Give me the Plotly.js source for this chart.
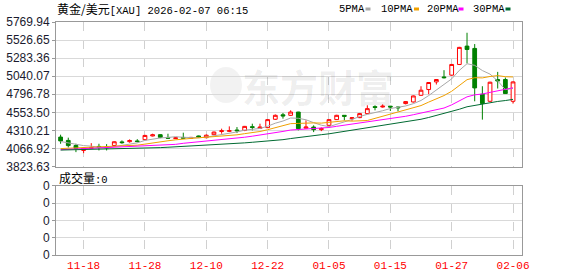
<!DOCTYPE html>
<html>
<head>
<meta charset="utf-8">
<script src="https://cdn.plot.ly/plotly-3.0.1.min.js"></script>
<style>
  html, body { margin: 0; padding: 0; background: #fff; }
  #chart { width: 578px; height: 276px; }
</style>
</head>
<body>
<div id="chart"></div>
<script>
// ---------- data ----------
const dates = ['11-13','11-14','11-17','11-18','11-19','11-20','11-21','11-24','11-25','11-26',
  '11-27','11-28','12-01','12-02','12-03','12-04','12-05','12-08','12-09','12-10',
  '12-11','12-12','12-15','12-16','12-17','12-18','12-19','12-22','12-23','12-24',
  '12-26','12-29','12-30','12-31','01-02','01-05','01-06','01-07','01-08','01-09',
  '01-12','01-13','01-14','01-15','01-16','01-19','01-20','01-21','01-22','01-23',
  '01-26','01-27','01-28','01-29','01-30','02-02','02-03','02-04','02-05','02-06'];

const openP = [4220,4175,4107,4040,4068,4094,4085,4107,4155,4158,
  4168,4185,4235,4252,4215,4200,4215,4202,4235,4212,
  4252,4295,4298,4315,4310,4360,4337,4347,4460,4520,
  4513,4557,4340,4355,4320,4378,4455,4513,4468,4482,
  4536,4630,4625,4636,4625,4671,4693,4783,4860,4963,
  5030,5054,5198,5445,5414,4797,4702,4995,4995,4702];
const highP = [4252,4212,4130,4080,4138,4130,4125,4162,4175,4189,
  4192,4250,4265,4258,4265,4220,4279,4222,4240,4256,
  4295,4333,4364,4355,4370,4400,4400,4460,4525,4545,
  4580,4560,4445,4378,4350,4460,4520,4515,4490,4545,
  4648,4648,4660,4640,4630,4705,4780,4905,4960,5000,
  5121,5205,5435,5625,5473,4905,4965,5098,5022,4970];
const lowP = [4130,4080,4017,4003,4060,4040,4040,4100,4130,4144,
  4148,4180,4229,4205,4200,4192,4198,4195,4210,4205,
  4245,4265,4287,4274,4300,4310,4330,4340,4450,4468,
  4505,4310,4335,4287,4300,4370,4450,4445,4440,4475,
  4530,4580,4617,4571,4567,4660,4685,4775,4797,4928,
  5009,5045,5190,5212,4702,4455,4695,4874,4800,4671];
const closeP = [4168,4105,4067,4071,4080,4080,4076,4157,4145,4172,
  4160,4242,4250,4216,4205,4210,4205,4215,4220,4245,
  4287,4305,4305,4305,4364,4350,4355,4455,4513,4505,
  4557,4333,4355,4320,4335,4455,4513,4500,4480,4536,
  4603,4620,4636,4625,4615,4698,4774,4851,4955,4995,
  5020,5198,5428,5400,4882,4671,4959,4975,4806,4963];

const ma5 = [4160,4140,4120,4105,4098,4081,4075,4093,4108,4126,
  4142,4175,4194,4208,4215,4225,4217,4210,4211,4219,
  4234,4254,4272,4289,4313,4326,4336,4366,4407,4436,
  4477,4473,4453,4414,4380,4360,4396,4425,4457,4497,
  4526,4548,4575,4604,4620,4639,4670,4713,4779,4855,
  4919,5004,5119,5208,5186,5116,5068,4977,4859,4875];
const ma10 = [4065,4070,4072,4074,4078,4082,4086,4092,4100,4108,
  4111,4125,4143,4158,4170,4183,4196,4202,4210,4217,
  4230,4236,4241,4250,4266,4280,4295,4319,4348,4374,
  4401,4404,4409,4411,4408,4418,4434,4439,4435,4438,
  4443,4472,4500,4530,4558,4583,4609,4644,4691,4737,
  4779,4837,4916,4993,5020,5017,5036,5048,5033,5030];
const ma20 = [4050,4055,4058,4062,4066,4070,4074,4078,4082,4086,
  4090,4096,4102,4108,4115,4122,4136,4146,4155,4164,
  4170,4180,4192,4204,4218,4232,4246,4261,4279,4296,
  4315,4320,4325,4330,4337,4349,4365,4379,4392,4406,
  4422,4438,4455,4471,4483,4500,4521,4541,4563,4588,
  4611,4654,4708,4762,4789,4800,4822,4846,4862,4884];
const ma30 = [4045,4047,4049,4051,4053,4055,4057,4059,4061,4063,
  4066,4070,4074,4078,4083,4088,4093,4098,4104,4110,
  4116,4122,4128,4135,4142,4150,4158,4167,4176,4185,
  4200,4215,4228,4240,4252,4264,4280,4295,4310,4325,
  4343,4360,4375,4390,4405,4422,4440,4460,4484,4510,
  4535,4562,4595,4628,4648,4662,4682,4700,4712,4728];

const volume = [0,0,0,0,0,0,0,0,0,0, 0,0,0,0,0,0,0,0,0,0, 0,0,0,0,0,0,0,0,0,0,
  0,0,0,0,0,0,0,0,0,0, 0,0,0,0,0,0,0,0,0,0, 0,0,0,0,0,0,0,0,0,0];

const yTickVals = [3823.63,4066.92,4310.21,4553.50,4796.78,5040.07,5283.36,5526.65,5769.94];
const yTickText = ['3823.63','4066.92','4310.21','4553.50','4796.78','5040.07','5283.36','5526.65','5769.94'];
const volTickVals = [0,1,2,3,4];
const volTickText = ['0','0','0','0','0'];
const xTickDates = ['11-18','11-28','12-10','12-22','01-05','01-15','01-27','02-06'];

const maNames = ['5PMA','10PMA','20PMA','30PMA'];
const maColors = ['#a8a8a8','#f0a000','#ff00ff','#006a32'];

// ---------- layout helpers (pixel -> paper) ----------
const L = 56, R = 522, T = 22, B = 255;
const px = x => (x - L) / (R - L);
const py = y => (B - y) / (B - T);

const monoFont = 'Liberation Mono, DejaVu Sans Mono, monospace';
const cjk = 'Noto Sans CJK SC';

const traces = [];
[ma5, ma10, ma20, ma30].forEach((arr, k) => {
  traces.push({
    type: 'scatter', mode: 'lines', x: dates, y: arr, xaxis: 'x', yaxis: 'y',
    line: { color: maColors[k], width: 1 }, name: maNames[k], hoverinfo: 'skip'
  });
});
traces.push({
  type: 'candlestick', x: dates, open: openP, high: highP, low: lowP, close: closeP,
  xaxis: 'x', yaxis: 'y', whiskerwidth: 0,
  increasing: { line: { color: '#ff0000', width: 1 }, fillcolor: '#ffffff' },
  decreasing: { line: { color: '#008000', width: 1 }, fillcolor: '#008000' },
  hoverinfo: 'skip'
});
traces.push({
  type: 'bar', x: dates, y: volume, xaxis: 'x2', yaxis: 'y2',
  marker: { color: '#ff0000', line: { width: 0 } }, hoverinfo: 'skip'
});

const xCommon = {
  type: 'category', range: [-0.6, 60.17], showgrid: true, gridcolor: '#d0d0d0',
  griddash: 'dash', gridwidth: 1, tickmode: 'array', tickvals: xTickDates, ticktext: xTickDates,
  showline: true, mirror: true, linecolor: '#999999', linewidth: 1, ticks: '',
  zeroline: false, fixedrange: true
};

const layout = {
  width: 578, height: 276,
  margin: { l: L, r: 578 - R, t: T, b: 276 - B, pad: 0 },
  paper_bgcolor: '#ffffff', plot_bgcolor: '#ffffff',
  showlegend: false,
  xaxis: Object.assign({}, xCommon, { anchor: 'y', showticklabels: false, rangeslider: { visible: false } }),
  xaxis2: Object.assign({}, xCommon, {
    anchor: 'y2', matches: 'x', showticklabels: true,
    tickfont: { family: monoFont, size: 11, color: '#ff0000' }, rangeslider: { visible: false }
  }),
  yaxis: {
    domain: [py(166.5), 1], range: [3823.63, 5769.94], tickmode: 'array',
    tickvals: yTickVals, ticktext: yTickText, showgrid: true, gridcolor: '#d9d9d9', gridwidth: 1,
    showline: true, mirror: true, linecolor: '#999999', ticks: 'outside', ticklen: 3,
    tickcolor: '#999999', tickfont: { family: 'Liberation Sans, Arial, sans-serif', size: 12, color: '#1a1a2e' },
    zeroline: false, fixedrange: true
  },
  yaxis2: {
    domain: [0, py(185.7)], range: [0, 4], tickmode: 'array',
    tickvals: volTickVals, ticktext: volTickText, showgrid: true, gridcolor: '#d9d9d9', gridwidth: 1,
    showline: true, mirror: true, linecolor: '#999999', ticks: 'outside', ticklen: 3,
    tickcolor: '#999999', tickfont: { family: 'Liberation Sans, Arial, sans-serif', size: 12, color: '#1a1a2e' },
    zeroline: false, fixedrange: true
  },
  annotations: [
    { xref: 'paper', yref: 'paper', x: px(55), y: py(9), xanchor: 'left', yanchor: 'middle', showarrow: false,
      text: '<span style="font-family:' + cjk + ';font-size:12px">黄金/美元</span>[XAU] 2026-02-07 06:15',
      font: { family: monoFont, size: 10.5, color: '#000' } },
    { xref: 'paper', yref: 'paper', x: px(337), y: py(9), xanchor: 'left', yanchor: 'middle', showarrow: false,
      text: maNames[0], font: { family: monoFont, size: 10.5, color: '#000' } },
    { xref: 'paper', yref: 'paper', x: px(379), y: py(9), xanchor: 'left', yanchor: 'middle', showarrow: false,
      text: maNames[1], font: { family: monoFont, size: 10.5, color: '#000' } },
    { xref: 'paper', yref: 'paper', x: px(424.5), y: py(9), xanchor: 'left', yanchor: 'middle', showarrow: false,
      text: maNames[2], font: { family: monoFont, size: 10.5, color: '#000' } },
    { xref: 'paper', yref: 'paper', x: px(470.5), y: py(9), xanchor: 'left', yanchor: 'middle', showarrow: false,
      text: maNames[3], font: { family: monoFont, size: 10.5, color: '#000' } },
    { xref: 'paper', yref: 'paper', x: px(57), y: py(177), xanchor: 'left', yanchor: 'middle', showarrow: false,
      text: '<span style="font-family:' + cjk + ';font-size:12px">成交量</span>:0',
      font: { family: monoFont, size: 10.5, color: '#000' } },
    { xref: 'paper', yref: 'paper', x: px(318), y: py(85), xanchor: 'center', yanchor: 'middle', showarrow: false,
      text: '<b>东方财富</b>', font: { family: cjk, size: 38, color: 'rgba(0,0,0,0.075)' } }
  ],
  shapes: [
    { type: 'rect', xref: 'paper', yref: 'paper', x0: px(365.5), x1: px(370.5), y0: py(10.5), y1: py(7.5), fillcolor: maColors[0], line: { width: 0 } },
    { type: 'rect', xref: 'paper', yref: 'paper', x0: px(414), x1: px(419), y0: py(10.5), y1: py(7.5), fillcolor: maColors[1], line: { width: 0 } },
    { type: 'rect', xref: 'paper', yref: 'paper', x0: px(458.5), x1: px(463.5), y0: py(10.5), y1: py(7.5), fillcolor: maColors[2], line: { width: 0 } },
    { type: 'rect', xref: 'paper', yref: 'paper', x0: px(505.5), x1: px(510.5), y0: py(10.5), y1: py(7.5), fillcolor: maColors[3], line: { width: 0 } },
    { type: 'circle', xref: 'paper', yref: 'paper', x0: px(210), x1: px(242), y0: py(103), y1: py(67), fillcolor: 'rgba(0,0,0,0.05)', line: { width: 0 }, layer: 'below' }
  ]
};

Plotly.newPlot('chart', traces, layout, { staticPlot: true, displayModeBar: false });
</script>
</body>
</html>
